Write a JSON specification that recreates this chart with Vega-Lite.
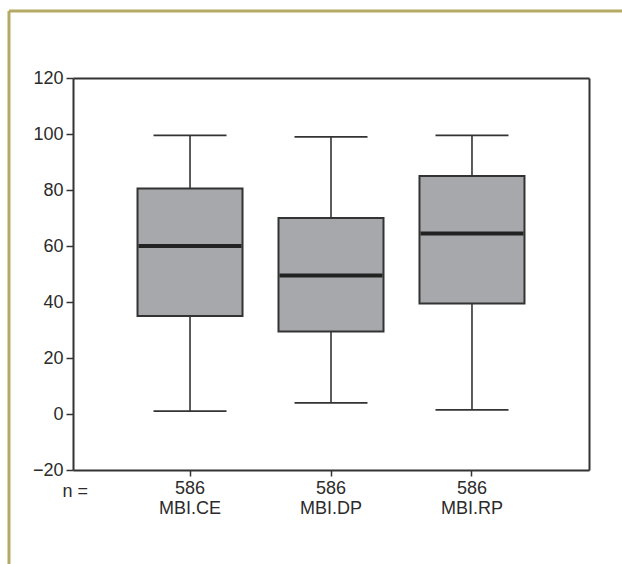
{
  "$schema": "https://vega.github.io/schema/vega-lite/v6.json",
  "width": 613,
  "height": 553,
  "autosize": "none",
  "padding": {"left": 9, "top": 11, "right": 0, "bottom": 0},
  "background": "white",
  "config": {
    "view": {"stroke": "#b5aa63", "strokeWidth": 3, "strokeDash": [613, 1166, 553, 0]},
    "font": "Liberation Sans",
    "axis": {"labelFont": "Liberation Sans", "titleFont": "Liberation Sans", "grid": false}
  },
  "data": {"values": [
    {"group": "MBI.CE", "min": 1, "q1": 35, "median": 60, "q3": 80.5, "max": 99.5},
    {"group": "MBI.DP", "min": 4, "q1": 29.5, "median": 49.5, "q3": 70, "max": 99},
    {"group": "MBI.RP", "min": 1.5, "q1": 39.5, "median": 64.5, "q3": 85, "max": 99.5}
  ]},
  "resolve": {"axis": {"x": "independent", "y": "independent"}},
  "layer": [
    {
      "mark": {"type": "rule", "color": "#333", "strokeWidth": 1.6},
      "encoding": {
        "x": {"field": "group", "type": "nominal", "sort": null,
          "scale": {"type": "band", "range": [64, 580], "paddingInner": 0, "paddingOuter": 0.33},
          "axis": {"orient": "bottom", "offset": -94, "domainColor": "#333", "domainWidth": 2, "tickColor": "#333", "tickWidth": 1.5, "tickSize": 6, "labelAngle": 0, "labelFontSize": 18, "labelColor": "#2b2b2b", "labelPadding": 3, "labelLineHeight": 20, "labelExpr": "['586', datum.label]", "title": "n =", "titleX": 53, "titleY": 26, "titleAlign": "left", "titleBaseline": "alphabetic", "titleFontSize": 18, "titleFontWeight": "normal", "titleColor": "#2b2b2b"}},
        "y": {"field": "min", "type": "quantitative",
          "scale": {"domain": [-20, 120], "range": [459, 67], "nice": false, "zero": false},
          "axis": {"orient": "left", "offset": -64, "values": [-20, 0, 20, 40, 60, 80, 100, 120], "domainColor": "#333", "domainWidth": 2, "tickColor": "#333", "tickWidth": 1.5, "tickSize": 7, "labelFontSize": 18, "labelColor": "#2b2b2b", "labelPadding": 3, "title": null}},
        "y2": {"field": "max"}
      }
    },
    {
      "mark": {"type": "bar", "size": 105, "fill": "#a7a8ab", "stroke": "#333", "strokeWidth": 2},
      "encoding": {
        "x": {"field": "group", "type": "nominal", "sort": null,
          "axis": {"orient": "top", "offset": -67, "labels": false, "ticks": false, "domainColor": "#333", "domainWidth": 2, "title": null}},
        "y": {"field": "q1", "type": "quantitative",
          "axis": {"orient": "right", "offset": -33, "labels": false, "ticks": false, "grid": false, "domainColor": "#333", "domainWidth": 2, "title": null}},
        "y2": {"field": "q3"}
      }
    },
    {
      "mark": {"type": "tick", "size": 103, "thickness": 4, "color": "#222", "opacity": 1},
      "encoding": {
        "x": {"field": "group", "type": "nominal", "sort": null, "axis": null},
        "y": {"field": "median", "type": "quantitative", "axis": null}
      }
    },
    {
      "mark": {"type": "tick", "size": 73, "thickness": 1.8, "color": "#333", "opacity": 1},
      "encoding": {
        "x": {"field": "group", "type": "nominal", "sort": null, "axis": null},
        "y": {"field": "min", "type": "quantitative", "axis": null}
      }
    },
    {
      "mark": {"type": "tick", "size": 73, "thickness": 1.8, "color": "#333", "opacity": 1},
      "encoding": {
        "x": {"field": "group", "type": "nominal", "sort": null, "axis": null},
        "y": {"field": "max", "type": "quantitative", "axis": null}
      }
    }
  ]
}
